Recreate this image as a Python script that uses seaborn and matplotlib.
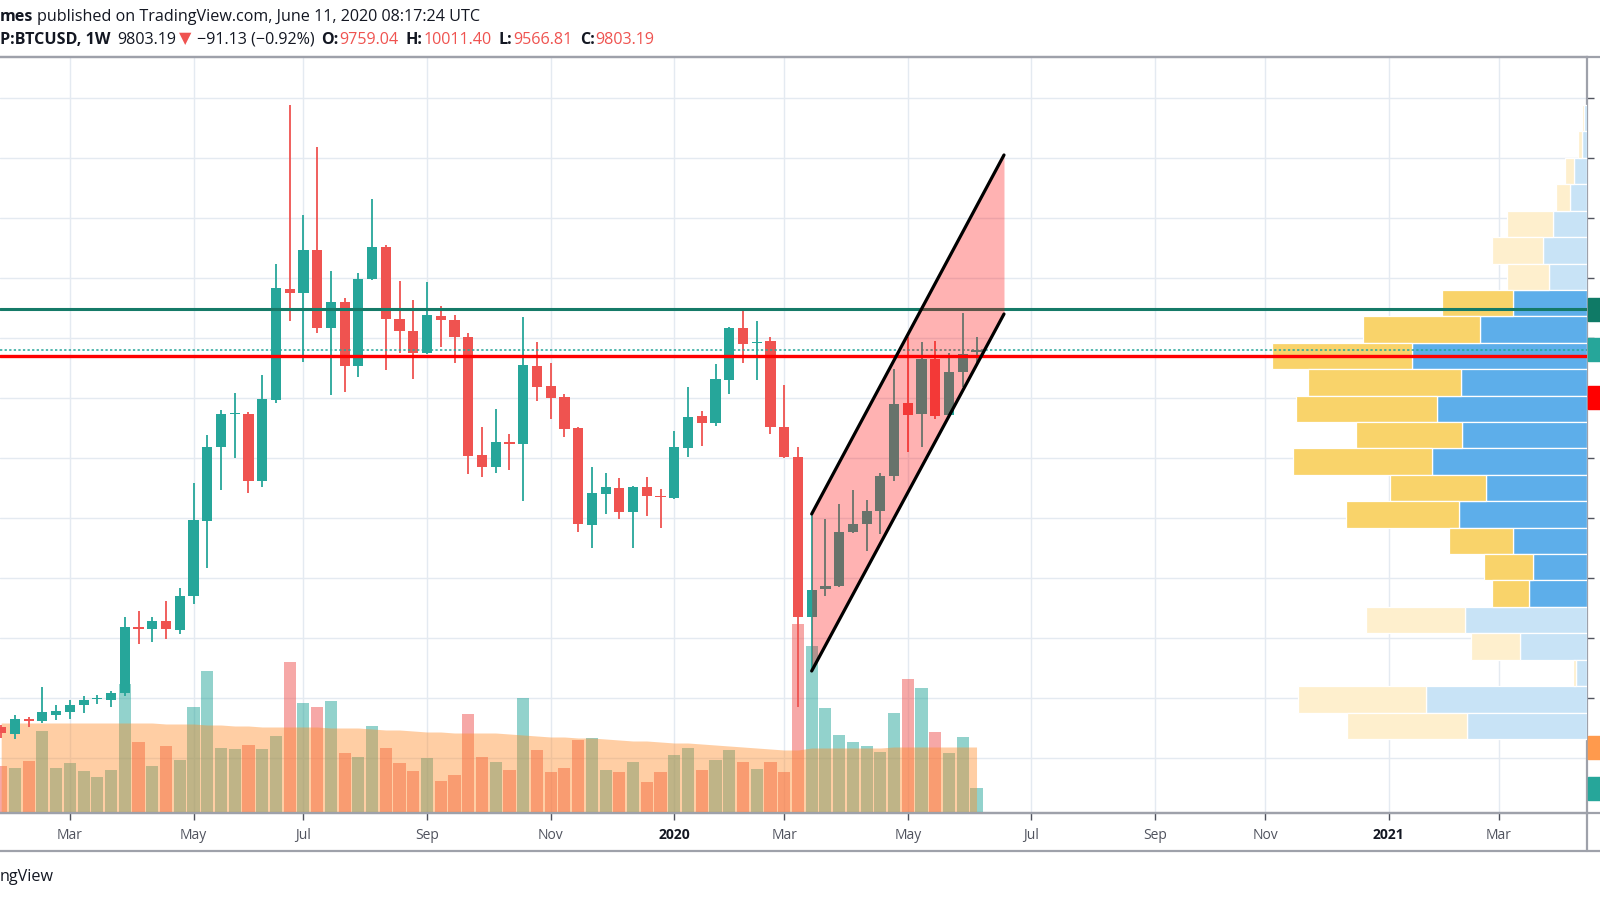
import numpy as np
import pandas as pd
import matplotlib
matplotlib.use("Agg")
import matplotlib.pyplot as plt
import seaborn as sns
from matplotlib.patches import Rectangle
from matplotlib.lines import Line2D

# ---------------- data ----------------
first_week = "2019-01-28"
opens = [3517, 3400, 3650, 3610, 3720, 3767, 3883, 3980, 3967, 4083,
         5183, 5150, 5283, 5133, 5700, 6950, 8183, 8733, 8733, 7617,
         8967, 10817, 10750, 11467, 10167, 10600, 9533, 10983, 11517, 10317,
         10117, 9750, 10367, 10300, 10017, 8050, 7850, 8267, 8233, 9533,
         9200, 9017, 8500, 6883, 7400, 7500, 7100, 7517, 7367, 7333,
         8167, 8700, 8583, 9300, 10167, 9917, 9950, 8517, 8017, 5342,
         5820, 5867, 6767, 6900, 7117, 7700, 8917, 8733, 9650, 8717,
         9433, 9759.04]
highs = [3550, 3717, 3683, 4183, 3880, 3967, 4033, 4050, 4117, 5350,
         5450, 5350, 5617, 5833, 7583, 8383, 8800, 9083, 8767, 9383,
         11233, 13883, 12050, 13183, 11117, 10667, 11083, 12317, 11550, 10950,
         10633, 10933, 10533, 10383, 10083, 8517, 8817, 8400, 10350, 9933,
         9583, 9067, 8520, 7850, 7750, 7667, 7530, 7683, 7483, 8450,
         9183, 8783, 9567, 10183, 10467, 10283, 10017, 9217, 8183, 7067,
         6983, 7233, 7467, 7300, 7750, 9483, 10017, 9933, 9950, 9750,
         10417, 10011.40]
lows = [3330, 3317, 3520, 3580, 3640, 3650, 3750, 3900, 3850, 4033,
        4900, 4933, 4983, 5067, 5567, 6167, 7467, 8000, 7417, 7517,
        8917, 10283, 9600, 10083, 9050, 9100, 9350, 10967, 9467, 9750,
        9317, 9733, 9850, 9583, 7733, 7683, 7750, 7800, 7283, 8950,
        8650, 8350, 6767, 6500, 7067, 6983, 6500, 7033, 6833, 7320,
        8017, 8200, 8533, 9067, 9583, 9300, 8400, 8000, 3850, 4450,
        5700, 5850, 6750, 6450, 6733, 7617, 8100, 8183, 8650, 8700,
        9183, 9566.81]
closes = [3417, 3650, 3610, 3767, 3783, 3883, 3967, 3990, 4083, 5183,
          5150, 5283, 5150, 5700, 6967, 8183, 8733, 8750, 7617, 8983,
          10833, 10750, 11467, 10167, 10600, 9533, 10983, 11517, 10317, 10117,
          9750, 10383, 10300, 10017, 8033, 7850, 8267, 8233, 9550, 9183,
          9000, 8483, 6900, 7417, 7517, 7100, 7517, 7367, 7350, 8183,
          8683, 8583, 9317, 10167, 9900, 9933, 8517, 8017, 5342, 5800,
          5870, 6767, 6900, 7117, 7700, 8900, 8717, 9650, 8700, 9433,
          9733, 9803.19]
volumes_k = [47, 45, 52, 82, 45, 50, 42, 36, 43, 129,
             71, 47, 67, 53, 106, 142, 65, 64, 68, 64,
             77, 151, 110, 106, 112, 60, 56, 87, 65, 50,
             42, 55, 32, 38, 99, 56, 51, 43, 115, 63,
             41, 45, 73, 75, 43, 41, 51, 31, 41, 58,
             65, 43, 53, 63, 51, 44, 51, 41, 189, 167,
             105, 78, 71, 67, 61, 100, 134, 125, 81, 60,
             76, 25]
volume_ma_k = [90, 90, 90, 90, 90, 90, 90, 90, 90, 90,
               90, 90, 89, 89, 89, 88, 88, 87, 87, 86,
               86, 86, 86, 86, 85, 85, 85, 84, 83, 83,
               82, 81, 81, 80, 80, 80, 80, 79, 78, 77,
               76, 76, 75, 75, 74, 73, 72, 72, 71, 70,
               70, 69, 68, 67, 66, 65, 64, 63, 63, 65,
               65, 65, 65, 65, 65, 66, 66, 66, 66, 66,
               66, 66]

# volume profile (visible range), rows from top to bottom
vp_high = 13883
vp_low = 3317
vp_up = [3, 5, 13, 17, 34, 44, 38, 74, 107, 175, 126, 150, 125, 155, 101, 128,
         74, 54, 58, 122, 67, 11, 161, 120]
vp_down = [2, 4, 9, 14, 46, 51, 42, 71, 117, 140, 153, 141, 106, 139, 96, 113,
           64, 49, 37, 99, 49, 3, 128, 120]
value_area_high = 10800
value_area_low = 5520

# rising channel
channel_dates = ["2020-03-16", "2020-06-22"]
channel_upper = [7067, 13050]
channel_lower = [4450, 10400]

resistance_level = 10483
support_level = 9700
last_price = 9803.19
marker_price = 9000

tick_dates = ["2019-03-04", "2019-05-06", "2019-07-01", "2019-09-02", "2019-11-04",
              "2020-01-06", "2020-03-02", "2020-05-04", "2020-07-06", "2020-09-07",
              "2020-11-02", "2021-01-04", "2021-03-01"]
tick_labels = ["Mar", "May", "Jul", "Sep", "Nov", "2020", "Mar", "May", "Jul", "Sep",
               "Nov", "2021", "Mar"]
price_ticks = [3000, 4000, 5000, 6000, 7000, 8000, 9000, 10000, 11000, 12000, 13000, 14000]

# ---------------- style ----------------
sns.set_theme(style="white")
plt.rcParams['font.family'] = ['Open Sans', 'DejaVu Sans']

UP = "#26a69a"
DOWN = "#ef5350"
GRID = "#e4eaf1"
FRAME = "#9ea1aa"

W, H = 1600, 900
fig = plt.figure(figsize=(16, 9), dpi=100)
fig.patch.set_facecolor("white")

ax_left, ax_right, ax_top, ax_bot = 0, 1587, 57, 813
rect = [ax_left / W, 1 - ax_bot / H, (ax_right - ax_left) / W, (ax_bot - ax_top) / H]

ax_bg = fig.add_axes(rect, zorder=0)
ax_vol = fig.add_axes(rect, sharex=ax_bg, zorder=1)
ax_vp = fig.add_axes(rect, sharey=ax_bg, zorder=2)
ax = fig.add_axes(rect, sharex=ax_bg, sharey=ax_bg, zorder=3)
for a in (ax_vol, ax_vp, ax):
    a.patch.set_visible(False)
    a.set_axis_off()

dates = pd.date_range(first_week, periods=len(opens), freq="7D")
o = np.array(opens); h = np.array(highs); l = np.array(lows); c = np.array(closes)
up = c >= o
colors = np.where(up, UP, DOWN)

# limits
x_left = pd.Timestamp("2019-01-27 09:30")
x_right = pd.Timestamp("2021-04-15 02:00")
ax_bg.set_xlim(x_left, x_right)
ax_bg.set_ylim(2083.3, 14683.3)

# grid / ticks (price labels sit beyond the picture edge, so only tick marks are shown)
ax_bg.set_xticks(pd.to_datetime(tick_dates))
ax_bg.set_xticklabels(tick_labels)
ax_bg.set_yticks(price_ticks)
ax_bg.yaxis.tick_right()
ax_bg.grid(True, color=GRID, lw=1)
ax_bg.tick_params(axis="x", length=5, width=1, color="#50535e", pad=6,
                  labelsize=10, labelcolor="#50535e", bottom=True)
ax_bg.tick_params(axis="y", length=5, width=1, color="#50535e",
                  right=True, left=False, labelright=False, labelleft=False)
for lab in ax_bg.get_xticklabels():
    if lab.get_text().isdigit():
        lab.set_fontweight("bold")
        lab.set_color("#131722")
ax_bg.spines["left"].set_visible(False)
for s in ("top", "bottom", "right"):
    ax_bg.spines[s].set_color(FRAME)
    ax_bg.spines[s].set_linewidth(1.6)

# volume
ax_vol.set_ylim(0, ax_bot - ax_top)
ax_vol.bar(dates, volumes_k, width=6.2, color=colors, alpha=0.5, lw=0, zorder=1)
ax_vol.fill_between(dates, 0, volume_ma_k, color="#ff8c28", alpha=0.42, lw=0, zorder=2)

# volume profile
n_rows = len(vp_up)
row_h = (vp_high - vp_low) / n_rows
row_centers = vp_high - row_h * (np.arange(n_rows) + 0.5)
in_va = (row_centers < value_area_high) & (row_centers > value_area_low)
up_col = np.where(in_va, "#5daeea", "#c8e3f6")
dn_col = np.where(in_va, "#f9d36a", "#feefcd")
vp_tot = np.array(vp_up) + np.array(vp_down)
ax_vp.set_xlim(vp_tot.max() * (ax_right - ax_left) / 315.0, 0)
ax_vp.barh(row_centers, vp_up, height=row_h, left=0, color=up_col,
           edgecolor="white", lw=0.9)
ax_vp.barh(row_centers, vp_down, height=row_h, left=vp_up, color=dn_col,
           edgecolor="white", lw=0.9)

# candles
ax.vlines(dates, l, h, colors=colors, lw=1.3, zorder=3)
body = np.maximum(np.abs(c - o), 22)
ax.bar(dates, body, bottom=np.minimum(o, c), width=5.2, color=colors, lw=0, zorder=3)

# horizontal levels
ax.axhline(resistance_level, color="#157a68", lw=2.2, zorder=3.5)
ax.axhline(support_level, color="#ff0000", lw=2.4, zorder=3.5)
ax.axhline(last_price, color=UP, lw=1.1, ls=(0, (1.5, 1.5)), zorder=3.5)

# channel
cd = pd.to_datetime(channel_dates)
ax.fill_between(cd, channel_lower, channel_upper, color="#ff0000", alpha=0.3, lw=0, zorder=4)
ch = pd.DataFrame({"date": list(cd) * 2,
                   "price": channel_upper + channel_lower,
                   "line": ["upper"] * 2 + ["lower"] * 2})
sns.lineplot(data=ch, x="date", y="price", units="line", estimator=None,
             color="black", lw=2.3, ax=ax, zorder=5, legend=False)
ax.set_axis_off()

# right-axis price labels (boxes cut by the picture edge)
yt = ax_bg.get_yaxis_transform()
box_h_price = 23 / (ax_bot - ax_top) * (14683.3 - 2083.3)
for price, col in [(resistance_level, "#0f7a66"), (last_price, UP), (marker_price, "#ff0000")]:
    ax_bg.add_patch(Rectangle((1.0006, price - box_h_price / 2), 0.03, box_h_price,
                              transform=yt, color=col, clip_on=False, zorder=5))
vt = ax_vol.get_yaxis_transform()
for val, col in [(volume_ma_k[-1], "#ff9a4d"), (volumes_k[-1], UP)]:
    ax_vol.add_patch(Rectangle((1.0006, val - 11.5), 0.03, 23,
                               transform=vt, color=col, clip_on=False, zorder=5))

# frame lines
for yy in (57, 813, 851):
    fig.add_artist(Line2D([0, 1], [1 - yy / H] * 2, color=FRAME, lw=1.6))
fig.add_artist(Line2D([ax_right / W] * 2, [1 - 813 / H, 1 - 851 / H], color=FRAME, lw=1.6))

# header text
renderer = fig.canvas.get_renderer()


def seq_text(segments, x_px, y_px, size):
    x = x_px
    for txt, col, wt, gap in segments:
        t = fig.text(x / W, 1 - y_px / H, txt, color=col, fontweight=wt,
                     fontsize=size, va="center", ha="left")
        x += t.get_window_extent(renderer).width + gap


BLACK = "#131722"
seq_text([("mes", BLACK, "bold", 4),
          ("published on TradingView.com, June 11, 2020 08:17:24 UTC", BLACK, "normal", 0)],
         0, 17, 11.6)
seq_text([("P:BTCUSD, 1W", BLACK, "bold", 7),
          ("9803.19", BLACK, "normal", 2),
          ("▼", DOWN, "normal", 6),
          ("−91.13 (−0.92%)", BLACK, "normal", 7),
          ("O:", BLACK, "bold", 1), ("9759.04", DOWN, "normal", 7),
          ("H:", BLACK, "bold", 1), ("10011.40", DOWN, "normal", 7),
          ("L:", BLACK, "bold", 1), ("9566.81", DOWN, "normal", 7),
          ("C:", BLACK, "bold", 1), ("9803.19", DOWN, "normal", 0)],
         0, 39.5, 11.6)
fig.text(0, 1 - 877 / H, "ngView", color=BLACK, fontsize=11.6, va="center", ha="left")

fig.savefig("out.png", dpi=100)
